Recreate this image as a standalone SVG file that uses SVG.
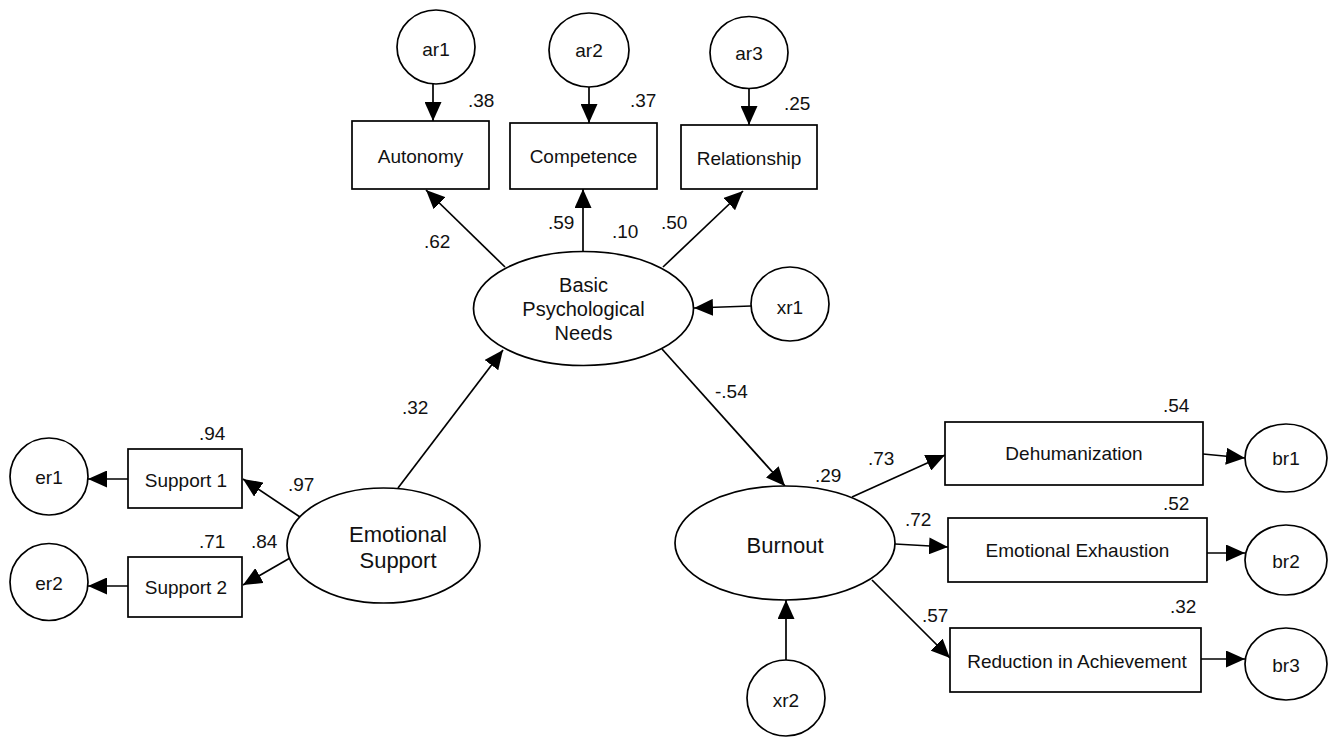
<svg xmlns="http://www.w3.org/2000/svg" width="1332" height="738" viewBox="0 0 1332 738">
<style>
.sh{fill:#fff;stroke:#000;stroke-width:1.7}
.t{font-family:"Liberation Sans",Arial,sans-serif;font-size:19px;fill:#111;text-anchor:middle}
.lt{font-family:"Liberation Sans",Arial,sans-serif;font-size:19px;fill:#111}
.big{font-size:22px}
.mid{font-size:20px}
.c{stroke:#000;stroke-width:1.7;fill:none;marker-end:url(#ah)}
</style>
<defs>
<marker id="ah" markerUnits="userSpaceOnUse" markerWidth="19" markerHeight="17" refX="19" refY="8.5" orient="auto">
<path d="M0,0 L19,8.5 L0,17 z" fill="#000"/>
</marker>
</defs>
<rect width="1332" height="738" fill="#fff"/>
<g id="connectors">
<line class="c" x1="433" y1="84" x2="433" y2="121"/>
<line class="c" x1="589" y1="87" x2="589" y2="123"/>
<line class="c" x1="749" y1="89" x2="749" y2="125"/>
<line class="c" x1="505" y1="267" x2="426" y2="190"/>
<line class="c" x1="583" y1="251" x2="583" y2="189"/>
<line class="c" x1="663" y1="267" x2="743" y2="191"/>
<line class="c" x1="751" y1="306" x2="694" y2="308"/>
<line class="c" x1="398" y1="488" x2="503" y2="350"/>
<line class="c" x1="662" y1="349" x2="785" y2="486"/>
<line class="c" x1="300" y1="517" x2="243" y2="479"/>
<line class="c" x1="290" y1="558" x2="243" y2="585"/>
<line class="c" x1="128" y1="479" x2="88" y2="479"/>
<line class="c" x1="128" y1="586" x2="88" y2="586"/>
<line class="c" x1="852" y1="497" x2="945" y2="455"/>
<line class="c" x1="895" y1="544" x2="948" y2="547"/>
<line class="c" x1="872" y1="580" x2="950" y2="658"/>
<line class="c" x1="786" y1="660" x2="786" y2="600"/>
<line class="c" x1="1203" y1="454" x2="1245" y2="458"/>
<line class="c" x1="1207" y1="553" x2="1245" y2="553"/>
<line class="c" x1="1201" y1="659" x2="1245" y2="659"/>
</g>
<g id="ar1"><ellipse class="sh" cx="436" cy="47" rx="39" ry="37"/><text class="t" x="436" y="56">ar1</text></g>
<g id="ar2"><ellipse class="sh" cx="589" cy="50" rx="40" ry="37"/><text class="t" x="589" y="57">ar2</text></g>
<g id="ar3"><ellipse class="sh" cx="749" cy="52.5" rx="39" ry="36"/><text class="t" x="749" y="60">ar3</text></g>
<g id="autonomy"><rect class="sh" x="352" y="121" width="137" height="68"/><text class="t" x="420.5" y="163">Autonomy</text></g>
<g id="competence"><rect class="sh" x="510" y="123" width="147" height="66"/><text class="t" x="583.5" y="163">Competence</text></g>
<g id="relationship"><rect class="sh" x="681" y="125" width="136" height="64"/><text class="t" x="749" y="165">Relationship</text></g>
<g id="bpn"><ellipse class="sh" cx="583.5" cy="308.5" rx="110" ry="57"/>
<text class="t mid" x="583.5" y="292">Basic</text><text class="t mid" x="583.5" y="316">Psychological</text><text class="t mid" x="583.5" y="340">Needs</text></g>
<g id="xr1"><ellipse class="sh" cx="790" cy="304" rx="39" ry="37"/><text class="t" x="790" y="314">xr1</text></g>
<g id="emotional-support"><ellipse class="sh" cx="383.5" cy="545.5" rx="96.5" ry="57.5"/>
<text class="t big" x="398" y="542">Emotional</text><text class="t big" x="398" y="568">Support</text></g>
<g id="support1"><rect class="sh" x="128" y="449" width="114" height="59"/><text class="t" x="186" y="487">Support 1</text></g>
<g id="support2"><rect class="sh" x="128" y="557" width="114" height="60"/><text class="t" x="186" y="594">Support 2</text></g>
<g id="er1"><ellipse class="sh" cx="49" cy="476.5" rx="39" ry="38.5"/><text class="t" x="49" y="484">er1</text></g>
<g id="er2"><ellipse class="sh" cx="49" cy="582" rx="39" ry="38.5"/><text class="t" x="49" y="590">er2</text></g>
<g id="burnout"><ellipse class="sh" cx="785" cy="543" rx="110" ry="57"/><text class="t big" x="785" y="553">Burnout</text></g>
<g id="xr2"><ellipse class="sh" cx="786" cy="698" rx="39" ry="38"/><text class="t" x="786" y="707">xr2</text></g>
<g id="dehumanization"><rect class="sh" x="945" y="422" width="258" height="63"/><text class="t" x="1074" y="460">Dehumanization</text></g>
<g id="emotional-exhaustion"><rect class="sh" x="948" y="518" width="259" height="64"/><text class="t" x="1077.5" y="557">Emotional Exhaustion</text></g>
<g id="reduction"><rect class="sh" x="950" y="628" width="251" height="64"/><text class="t" x="1077" y="668">Reduction in Achievement</text></g>
<g id="br1"><ellipse class="sh" cx="1286" cy="458" rx="41" ry="34"/><text class="t" x="1286" y="465">br1</text></g>
<g id="br2"><ellipse class="sh" cx="1286" cy="560" rx="41" ry="35"/><text class="t" x="1286" y="568">br2</text></g>
<g id="br3"><ellipse class="sh" cx="1286" cy="664" rx="41" ry="36"/><text class="t" x="1286" y="672">br3</text></g>
<g id="labels">
<text class="lt" x="468" y="107">.38</text>
<text class="lt" x="630" y="107">.37</text>
<text class="lt" x="784" y="110">.25</text>
<text class="lt" x="424" y="248">.62</text>
<text class="lt" x="548" y="229">.59</text>
<text class="lt" x="612" y="238">.10</text>
<text class="lt" x="661" y="229">.50</text>
<text class="lt" x="402" y="414">.32</text>
<text class="lt" x="715" y="398">-.54</text>
<text class="lt" x="199" y="440">.94</text>
<text class="lt" x="288" y="491">.97</text>
<text class="lt" x="199" y="548">.71</text>
<text class="lt" x="251" y="548">.84</text>
<text class="lt" x="815" y="482">.29</text>
<text class="lt" x="868" y="465">.73</text>
<text class="lt" x="1163" y="412">.54</text>
<text class="lt" x="905" y="526">.72</text>
<text class="lt" x="1163" y="510">.52</text>
<text class="lt" x="922" y="622">.57</text>
<text class="lt" x="1170" y="613">.32</text>
</g>
</svg>
